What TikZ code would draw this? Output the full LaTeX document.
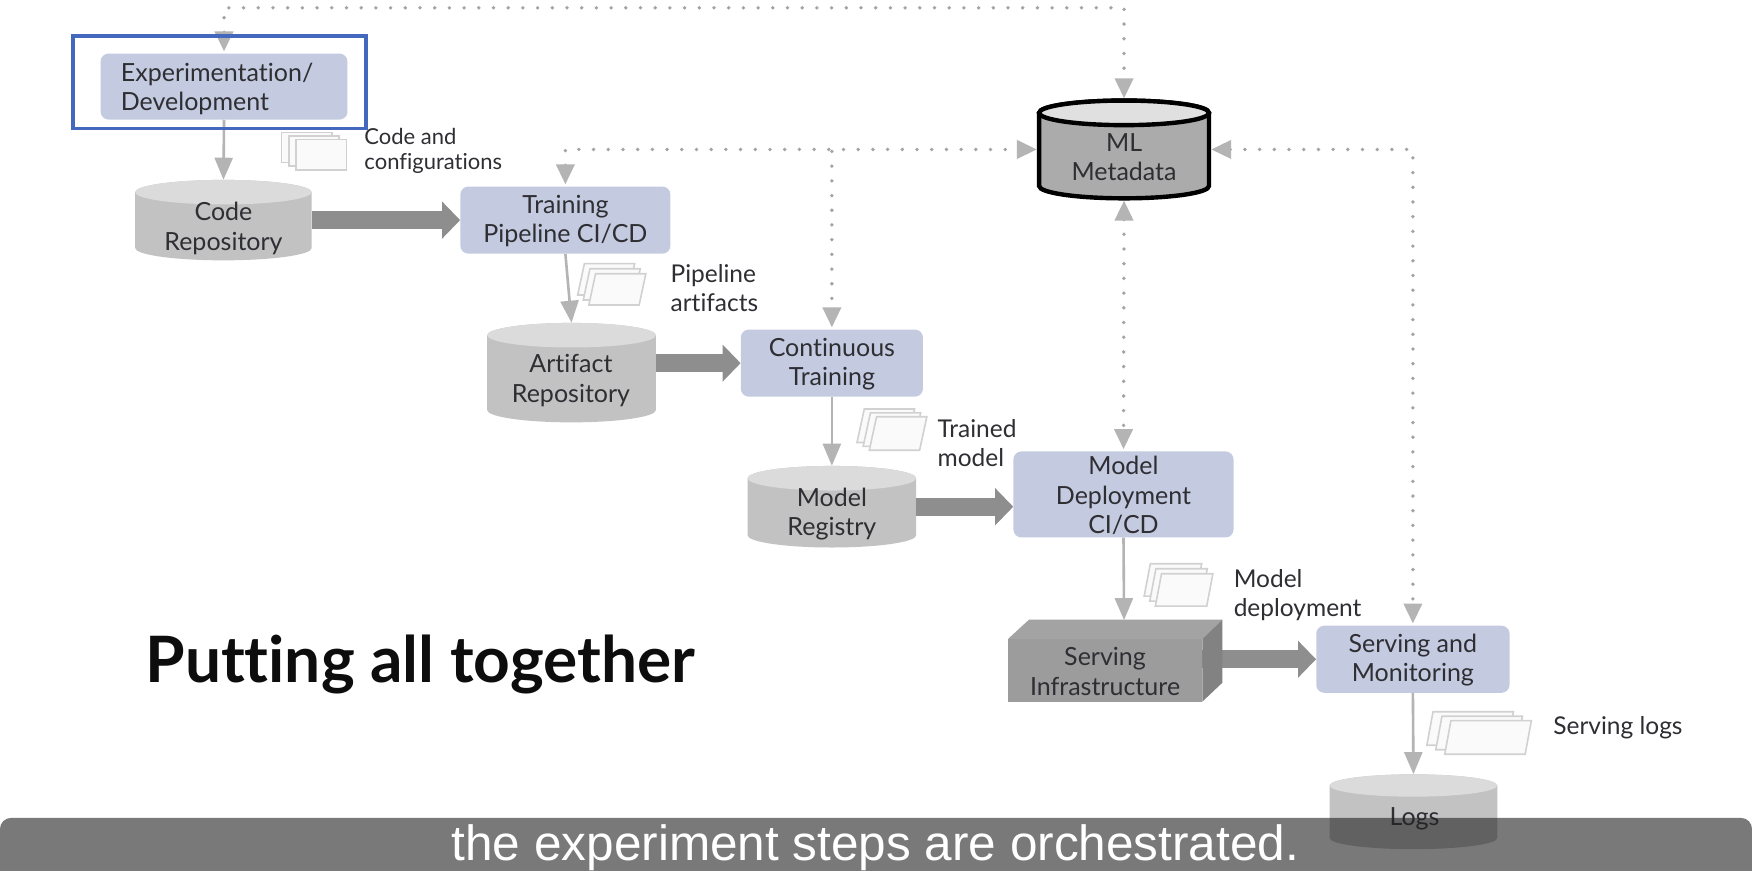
\documentclass[tikz,border=0pt]{standalone}
\usepackage{fontspec}
\setmainfont{Lato}[Ligatures=NoCommon]
\newfontfamily\capfont{Liberation Sans}
\usetikzlibrary{arrows.meta,calc}
\def\uu{1.1173}
\definecolor{boxblue}{HTML}{C4CBE0}
\definecolor{focusblue}{HTML}{4468BE}
\definecolor{linegray}{HTML}{B4B4B4}
\definecolor{dotgray}{HTML}{A4A4A4}
\definecolor{fatgray}{HTML}{8E8E8E}
\definecolor{inkgray}{HTML}{2E2E33}
\tikzset{
  lbl/.style={font=\fontsize{25}{29.2}\selectfont,text=inkgray,align=center,inner sep=0pt},
  sidelbl/.style={font=\fontsize{24.5}{29}\selectfont,text=inkgray,align=left,inner sep=0pt,anchor=west},
  smalllbl/.style={font=\fontsize{22}{25.6}\selectfont,text=inkgray,align=left,inner sep=0pt,anchor=west},
  procbox/.style={fill=boxblue,rounded corners=8pt,inner sep=0pt},
  flow/.style={draw=linegray,line width=2.6pt,-{Triangle[length=22pt,width=18pt]}},
  dots/.style={draw=dotgray,line width=3.8pt,line cap=round,dash pattern=on 0pt off 14.7pt,shorten <=2pt,shorten >=2pt},
  dothead/.tip={Triangle[length=20pt,width=18pt,color=linegray]},
  fat/.style={draw=fatgray,line width=18pt,-{Triangle[length=18pt,width=36pt]}},
  docsheet/.style={draw=black!18,line width=1.6pt,fill=black!2},
}
% name, x1,y1,x2,y2, text
\newcommand\procnode[6]{%
  \node[procbox,minimum width={(#4-#2)*\uu*1pt},minimum height={(#5-#3)*\uu*1pt}] (#1) at ({(#2+#4)/2},{(#3+#5)/2}) {};
  \node[lbl] (#1label) at ({(#2+#4)/2},{(#3+#5)/2+1}) {#6};}
% name, x1,y1,x2,y2, ry, body colour, top colour, extra style
\newcommand\dbnode[9]{%
  \path[fill=#7,#9] ({#2},{#3+#6}) -- ({#2},{#5-#6})
     arc[start angle=180,end angle=360,x radius={(#4-#2)/2*\uu*1pt},y radius={#6*\uu*1pt}]
     -- ({#4},{#3+#6})
     arc[start angle=0,end angle=180,x radius={(#4-#2)/2*\uu*1pt},y radius={#6*\uu*1pt}] -- cycle;
  \path[fill=#8,#9] ({(#2+#4)/2},{#3+#6}) ellipse[x radius={(#4-#2)/2*\uu*1pt},y radius={#6*\uu*1pt}];
  \node[inner sep=0pt,minimum width={(#4-#2)*\uu*1pt},minimum height={(#5-#3)*\uu*1pt}] (#1) at ({(#2+#4)/2},{(#3+#5)/2}) {};
}
% bottom-left x,y of front sheet, width, height, skew, offset x, offset y
\newcommand\docs[7]{%
  \foreach \i in {2,1,0}{
    \path[docsheet] ({#1-\i*#6},{#2-\i*#7}) -- ++(#3,0) -- ++({#5},{-#4}) -- ++({-#3},0) -- cycle;
  }
}
\begin{document}
\begin{tikzpicture}[x=1.1173pt,y=-1.1173pt]
\useasboundingbox (0,0) rectangle (1568,778.65);
\fill[white] (0,0) rectangle (1568,778.65);

\procnode{exp}{90}{48}{311}{107}{}
\procnode{training}{412}{167}{600}{227}{Training\\Pipeline CI/CD}
\procnode{cont}{663}{295}{826}{355}{Continuous\\Training}
\procnode{deploy}{907}{404}{1104}{481}{Model\\Deployment\\CI/CD}
\procnode{monitor}{1178}{560}{1351}{620}{Serving and\\Monitoring}
\node[lbl,align=left,anchor=west] (explabel) at (108,79.5) {Experimentation/\\Development};

\dbnode{code}{121}{161}{279}{233}{11}{black!24}{black!14}{}
\dbnode{art}{436}{289}{587}{378}{11}{black!24}{black!14}{}
\dbnode{reg}{669}{417}{820}{490}{11}{black!24}{black!14}{}
\dbnode{logs}{1190}{693}{1340}{760}{10}{black!24}{black!14}{}
\dbnode{ml}{930}{90}{1082}{177.5}{11}{black!33}{black!12}{draw=black,line width=4.4pt}
\node[lbl] (codelabel) at (200,204.5) {Code\\Repository};
\node[lbl] (artlabel) at (511,340.5) {Artifact\\Repository};
\node[lbl] (reglabel) at (744.5,460) {Model\\Registry};
\node[lbl] (logslabel) at (1266,733) {Logs};
\node[lbl] (mllabel) at (1006,140.5) {ML\\Metadata};

% serving infrastructure box
\node[inner sep=0pt,minimum width={174*\uu*1pt},minimum height={56*\uu*1pt}] (infra) at (989,600) {};
\coordinate (infratop) at (1006,555);

\draw[fat] (code.east) -- (training.west);
\draw[fat] (cont.west -| art.east) -- (cont.west);
\draw[fat] (reg.east) -- (reg.east -| deploy.west);
\draw[fat] (monitor.west -| infra.east) -- (monitor.west);

\fill[black!36] (902,572) -- (921,554.5) -- (1094,554.5) -- (1076,572) -- cycle;
\fill[black!49] (1076,572) -- (1094,554.5) -- (1094,611) -- (1076,628) -- cycle;
\fill[black!39] (902,572) rectangle (1076,628);
\node[lbl] (infralabel) at (989,601) {Serving\\Infrastructure};

% sheets
\docs{265}{152}{45}{27}{0}{6.5}{3.2}
\docs{527}{273}{45}{28}{6}{5}{4.5}
\docs{778}{403}{45}{30}{6.5}{5.5}{3.5}
\docs{1034}{542.5}{46}{29}{5.5}{5}{4.5}
\docs{1293}{675}{72}{30}{5.5}{8}{4}

% solid connectors
\draw[flow] (exp.south) -- (code.north);
\draw[flow] (training.south) -- (art.north);
\draw[flow] (cont.south) -- (reg.north);
\draw[flow] (deploy.south) -- (infratop);
\draw[flow] (monitor.south) -- (logs.north);

% dotted connectors
\coordinate (topmid) at (600,7);
\draw[dots,dothead-dothead] (exp.north) |- (topmid) -| (ml.north);
\draw[dots,dothead-dothead] (training.north) |- (ml.west);
\draw[dots,-dothead] (cont.north |- ml.west) -- (cont.north);
\draw[dots,dothead-dothead] (ml.east) -| (monitor.north);
\draw[dots,dothead-dothead] (ml.south) -- (deploy.north);

% side labels
\node[smalllbl] (l1) at (326,135) {Code and\\configurations};
\node[sidelbl] (l2) at (600,257.5) {Pipeline\\artifacts};
\node[sidelbl] (l3) at (839,396.5) {Trained\\model};
\node[sidelbl] (l4) at (1104,532.5) {Model\\deployment};
\node[sidelbl] (l5) at (1390,651) {Serving logs};

\node[anchor=base west,inner sep=0pt,font=\fontsize{64}{66}\selectfont\bfseries,text=black!95] (title) at (130,611) {Putting all together};

% highlight frame
\node[draw=focusblue,line width=3.6pt,inner sep=0pt,minimum width={262*\uu*1pt},minimum height={83*\uu*1pt}] (focus) at (196.5,73.5) {};

% caption band
\fill[black!87,fill opacity=0.6,rounded corners=11pt] (0,732) rectangle (1568,810);
\node[anchor=base,inner sep=0pt,font=\capfont\fontsize{49.5}{52}\selectfont,text=white] (caption) at (783.5,770.3) {the experiment steps are orchestrated.};
\end{tikzpicture}
\end{document}
